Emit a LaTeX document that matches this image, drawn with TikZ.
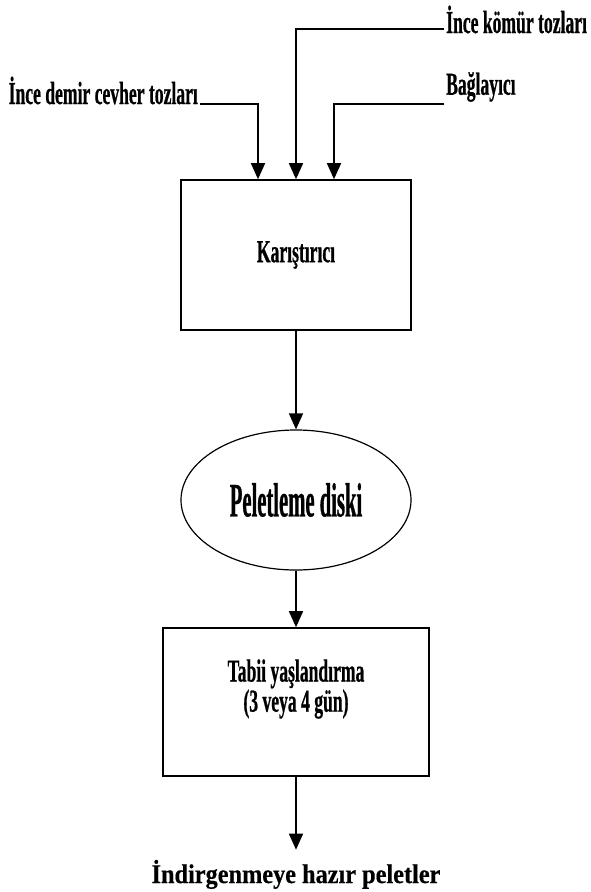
\documentclass[tikz,border=0pt]{standalone}
\usepackage{fontspec}
\newfontfamily\narrowfont[FakeStretch=0.55, FakeBold=0.6]{Liberation Serif Bold}
\newfontfamily\diskfont[FakeStretch=0.43, FakeBold=0.6]{Liberation Serif Bold}
\newfontfamily\plainfont[FakeStretch=0.90, FakeBold=0.4]{Liberation Serif Bold}
\usetikzlibrary{arrows.meta, positioning, shapes.geometric}

\begin{document}
\begin{tikzpicture}[x=1pt, y=-1pt,
    box/.style={draw, line width=1.6pt, minimum width=230pt, minimum height=150pt,
                font=\narrowfont\fontsize{32}{27}\selectfont},
    disk/.style={draw, ellipse, line width=1.2pt, minimum width=230pt, minimum height=140pt,
                 font=\diskfont\fontsize{48}{50}\selectfont},
    feed/.style={inner sep=2pt, font=\narrowfont\fontsize{32}{34}\selectfont},
    product/.style={inner sep=2pt, font=\plainfont\fontsize{27}{29}\selectfont},
    flow/.style={-{Triangle[width=14pt,length=16pt]}, line width=1.6pt}]
  \useasboundingbox (0,0) rectangle (591,892);

  % process chain
  \node[box] (mix) at (296,255) {Karıştırıcı};
  \node[disk] (disk) at (296,500) {Peletleme diski};
  \node[box, minimum width=266pt, minimum height=148pt, align=center] (aging) at (296,702)
       {Tabii yaşlandırma\\(3 veya 4 gün)\\[6pt]};
  \node[product, anchor=base] (ready) at (296,883) {İndirgenmeye hazır peletler};

  % raw materials
  \node[feed, anchor=base east] (iron) at (200,104) {İnce demir cevher tozları};
  \node[feed, anchor=base west] (coal) at (444,33) {İnce kömür tozları};
  \node[feed, anchor=south west] (binder) at (444,104) {Bağlayıcı};

  \draw[flow] (iron.base east) -| ([xshift=-38pt]mix.north);
  \draw[flow] ([yshift=4pt]coal.base west) -| (mix.north);
  \draw[flow] (binder.south west) -| ([xshift=38pt]mix.north);

  \draw[flow] (mix) -- (disk);
  \draw[flow] (disk) -- (aging);
  \draw[flow, shorten >=8pt] (aging) -- (ready);
\end{tikzpicture}
\end{document}
